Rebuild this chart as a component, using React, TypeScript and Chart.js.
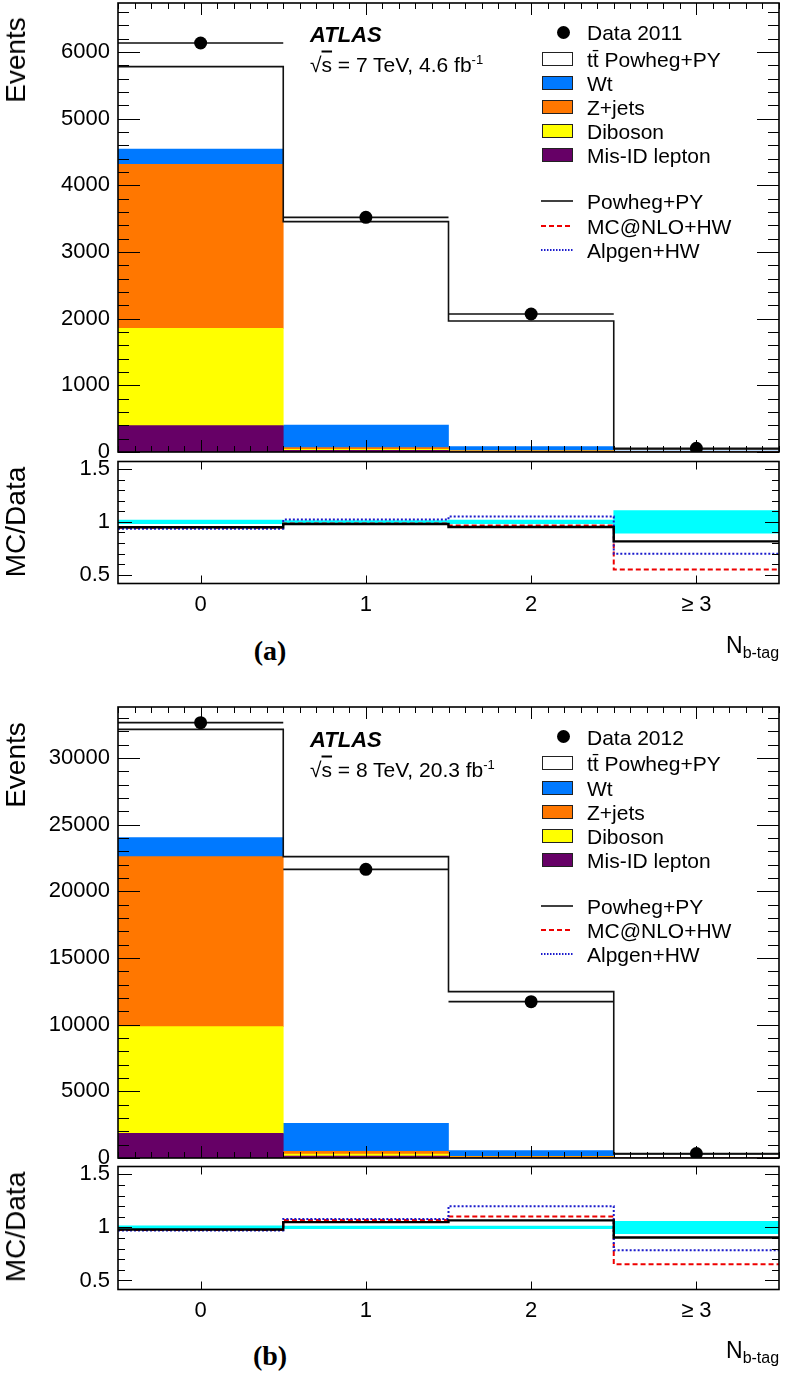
import React, { useEffect, useRef } from 'react';
import { Chart, registerables } from 'chart.js';

Chart.register(...registerables);

const FONT = "'Liberation Sans', Arial, Helvetica, sans-serif";
const SERIF = "'Liberation Serif', 'Times New Roman', serif";

// ---------------- data ----------------
const binCenters = [0, 1, 2, 3];
const xTickLabels = ['0', '1', '2', '\u2265 3'];

// (a) 2011, sqrt(s) = 7 TeV
const data2011 = [6135, 3520, 2070, 55];
const ttbar2011 = [1235, 3050, 1885, 30];
const wt2011 = [230, 340, 57, 8];
const zjets2011 = [2460, 25, 10, 2];
const diboson2011 = [1460, 15, 5, 2];
const misid2011 = [395, 25, 8, 2];
const ratioPowheg2011 = [0.95, 0.98, 0.952, 0.815];
const ratioMcnlo2011 = [0.945, 0.985, 0.965, 0.548];
const ratioAlpgen2011 = [0.935, 1.022, 1.052, 0.697];
const dataUnc2011 = [0.017, 0.012, 0.017, 0.108];

// (b) 2012, sqrt(s) = 8 TeV
const data2012 = [32650, 21650, 11725, 330];
const ttbar2012 = [8125, 20000, 11925, 255];
const wt2012 = [1425, 2100, 420, 30];
const zjets2012 = [12750, 200, 60, 5];
const diboson2012 = [8000, 150, 30, 5];
const misid2012 = [1850, 150, 40, 5];
const ratioPowheg2012 = [0.98, 1.05, 1.066, 0.905];
const ratioMcnlo2012 = [0.975, 1.07, 1.104, 0.654];
const ratioAlpgen2012 = [0.97, 1.08, 1.2, 0.786];
const dataUnc2012 = [0.015, 0.012, 0.012, 0.058];

const yTicks2011 = [0, 1000, 2000, 3000, 4000, 5000, 6000];
const yTicks2012 = [0, 5000, 10000, 15000, 20000, 25000, 30000];
const ratioTicks = [0.5, 1, 1.5];

const COLORS = {
  wt: '#0079ff',
  zj: '#ff7700',
  db: '#ffff00',
  mis: '#660066',
  band: '#00ffff',
  red: '#ee0000',
  blue: '#1a1acc',
};

// ---------------- helpers ----------------
const pts = (vals: number[]) => binCenters.map((c, i) => ({ x: c, y: vals[i] }));
const stepPoints = (vals: number[]) =>
  vals.flatMap((v, i) => [
    { x: binCenters[i] - 0.5, y: v },
    { x: binCenters[i] + 0.5, y: v },
  ]);
const segPoints = (vals: number[]) =>
  vals.flatMap((v, i) => [
    { x: binCenters[i] - 0.5, y: v },
    { x: binCenters[i] + 0.5, y: v },
    { x: binCenters[i] + 0.5, y: null as any },
  ]);

const framePlugin = {
  id: 'rootFrame',
  afterDatasetsDraw(chart: any, _a: any, o: any) {
    const { ctx, chartArea: a } = chart;
    const xs = chart.scales.x;
    const ys = chart.scales.y;
    const range = (min: number, max: number, step: number) => {
      const out: number[] = [];
      const k0 = Math.ceil(min / step - 1e-6);
      const k1 = Math.floor(max / step + 1e-6);
      for (let k = k0; k <= k1; k++) out.push(k * step);
      return out;
    };
    const isMul = (v: number, step: number) => Math.abs(v / step - Math.round(v / step)) < 1e-6;
    ctx.save();
    ctx.strokeStyle = '#000';
    ctx.lineWidth = 1;
    ctx.beginPath();
    const xt = (v: number, len: number) => {
      const p = Math.round(xs.getPixelForValue(v)) + 0.5;
      ctx.moveTo(p, a.bottom);
      ctx.lineTo(p, a.bottom - len);
      ctx.moveTo(p, a.top);
      ctx.lineTo(p, a.top + len);
    };
    const yt = (v: number, len: number) => {
      const p = Math.round(ys.getPixelForValue(v)) + 0.5;
      ctx.moveTo(a.left, p);
      ctx.lineTo(a.left + len, p);
      ctx.moveTo(a.right, p);
      ctx.lineTo(a.right - len, p);
    };
    if (o.xMinor) range(xs.min, xs.max, o.xMinor).forEach((v) => { if (!isMul(v, o.xMajor)) xt(v, o.xMinorLen); });
    range(xs.min, xs.max, o.xMajor).forEach((v) => xt(v, o.xMajorLen));
    range(ys.min, ys.max, o.yMinor).forEach((v) => { if (!isMul(v, o.yMajor)) yt(v, o.yMinorLen); });
    range(ys.min, ys.max, o.yMajor).forEach((v) => yt(v, o.yMajorLen));
    ctx.stroke();
    ctx.lineWidth = 1.6;
    ctx.strokeRect(a.left, a.top, a.right - a.left, a.bottom - a.top);
    ctx.restore();
  },
};

function makeOptions(o: any) {
  return {
    responsive: false,
    animation: false,
    events: [],
    layout: { autoPadding: false, padding: { top: o.padTop, right: 7, left: 0, bottom: 0 } },
    plugins: {
      legend: { display: false },
      tooltip: { enabled: false },
      title: { display: false },
      rootFrame: o.frame,
    },
    scales: {
      x: {
        type: 'linear',
        min: -0.5,
        max: 3.5,
        offset: false,
        stacked: o.stacked,
        grid: { display: false, drawTicks: false, offset: false },
        border: { display: false },
        afterBuildTicks: (s: any) => { s.ticks = binCenters.map((v) => ({ value: v })); },
        afterFit: (s: any) => { s.height = o.xHeight; s.paddingLeft = 0; s.paddingRight = 0; },
        ticks: {
          display: o.xLabels,
          padding: 8,
          maxRotation: 0,
          autoSkip: false,
          color: '#000',
          font: { size: 22, family: FONT },
          callback: (v: any) => xTickLabels[binCenters.indexOf(Number(v))] ?? '',
        },
      },
      y: {
        type: 'linear',
        min: o.yMin,
        max: o.yMax,
        stacked: o.stacked,
        grid: { display: false, drawTicks: false },
        border: { display: false },
        afterBuildTicks: (s: any) => { s.ticks = o.yTicks.map((v: number) => ({ value: v })); },
        afterFit: (s: any) => { s.width = 118; s.paddingTop = 0; s.paddingBottom = 0; },
        ticks: {
          padding: 8,
          autoSkip: false,
          color: '#000',
          font: { size: 22, family: FONT },
          callback: (v: any) => String(v),
        },
      },
    },
  };
}

function mainConfig(p: any) {
  const total = binCenters.map((_, i) => p.tt[i] + p.wt[i] + p.zj[i] + p.db[i] + p.mis[i]);
  const bar = (label: string, vals: number[], color: string) => ({
    type: 'bar',
    label,
    data: pts(vals),
    backgroundColor: color,
    borderWidth: 0,
    barPercentage: 1,
    categoryPercentage: 1,
    order: 10,
  });
  return {
    type: 'bar',
    data: {
      datasets: [
        bar('Mis-ID lepton', p.mis, COLORS.mis),
        bar('Diboson', p.db, COLORS.db),
        bar('Z+jets', p.zj, COLORS.zj),
        bar('Wt', p.wt, COLORS.wt),
        bar('tt Powheg+PY', p.tt, '#ffffff'),
        {
          type: 'line', label: 'Total prediction', data: stepPoints(total), borderColor: '#111',
          borderWidth: 1.6, pointRadius: 0, fill: false, tension: 0, stack: 'total', order: 3,
        },
        {
          type: 'line', label: 'Data bin width', data: segPoints(p.data), borderColor: '#111',
          borderWidth: 1.6, pointRadius: 0, fill: false, spanGaps: false, tension: 0, stack: 'dataerr', order: 2,
        },
        {
          type: 'line', label: p.dataLabel, data: pts(p.data), showLine: false, pointRadius: 6.5,
          pointBackgroundColor: '#000', pointBorderWidth: 0, borderColor: '#000', stack: 'data', order: 1,
        },
      ],
    },
    options: makeOptions({
      padTop: p.padTop, xHeight: p.xHeight, stacked: true, xLabels: false,
      yMin: 0, yMax: p.yMax, yTicks: p.yTicks,
      frame: {
        xMajor: 1, xMinor: 0.1, xMajorLen: 12, xMinorLen: 6,
        yMajor: p.yMajor, yMinor: p.yMinor, yMajorLen: 22, yMinorLen: 11,
      },
    }),
    plugins: [framePlugin],
  };
}

function ratioConfig(p: any) {
  const line = (label: string, vals: number[], color: string, width: number, dash: number[], order: number) => ({
    type: 'line', label, data: stepPoints(vals), borderColor: color, borderWidth: width,
    borderDash: dash, pointRadius: 0, fill: false, tension: 0, order,
  });
  return {
    type: 'bar',
    data: {
      datasets: [
        {
          type: 'bar', label: 'Data uncertainty',
          data: binCenters.map((c, i) => ({ x: c, y: [1 - p.unc[i], 1 + p.unc[i]] })),
          backgroundColor: COLORS.band, borderWidth: 0, barPercentage: 1, categoryPercentage: 1, order: 10,
        },
        line('MC@NLO+HW', p.mcnlo, COLORS.red, 2, [5, 3], 3),
        line('Alpgen+HW', p.alpgen, COLORS.blue, 2, [2, 2], 2),
        line('Powheg+PY', p.powheg, '#000', 2.4, [], 1),
      ],
    },
    options: makeOptions({
      padTop: p.padTop, xHeight: p.xHeight, stacked: false, xLabels: true,
      yMin: 0.415, yMax: 1.574, yTicks: ratioTicks,
      frame: {
        xMajor: 1, xMinor: 0, xMajorLen: 8, xMinorLen: 0,
        yMajor: 0.5, yMinor: 0.1, yMajorLen: 14, yMinorLen: 7,
      },
    }),
    plugins: [framePlugin],
  };
}

function ChartCanvas({ top, height, config }: { top: number; height: number; config: () => any }) {
  const ref = useRef<HTMLCanvasElement>(null);
  useEffect(() => {
    const chart = new Chart(ref.current as HTMLCanvasElement, config());
    return () => chart.destroy();
  }, []);
  return (
    <canvas
      ref={ref}
      width={786}
      height={height}
      style={{ position: 'absolute', left: 0, top, width: 786, height }}
    />
  );
}

const abs = (x: number, y: number, style: any = {}) => ({
  position: 'absolute' as const,
  left: x,
  top: y,
  transform: 'translateY(-50%)',
  lineHeight: 1,
  whiteSpace: 'nowrap' as const,
  ...style,
});

function Swatch({ kind, color, y }: { kind: string; color?: string; y: number }) {
  if (kind === 'dot') {
    return <div style={{ position: 'absolute', left: 557, top: y - 6.5, width: 13, height: 13, borderRadius: '50%', background: '#000' }} />;
  }
  if (kind === 'box') {
    return (
      <div
        style={{
          position: 'absolute', left: 542, top: y - 7, width: 31, height: 14,
          boxSizing: 'border-box', border: '1.5px solid #222', background: color,
        }}
      />
    );
  }
  const stroke = kind === 'solid' ? '#000' : kind === 'dash' ? COLORS.red : COLORS.blue;
  const dash = kind === 'solid' ? undefined : kind === 'dash' ? '5 3' : '1.5 1.5';
  return (
    <svg style={{ position: 'absolute', left: 541, top: y - 2 }} width={32} height={4}>
      <line x1={0} y1={2} x2={32} y2={2} stroke={stroke} strokeWidth={kind === 'solid' ? 1.5 : 2} strokeDasharray={dash} />
    </svg>
  );
}

function Annotations({ off, dataLabel, energy, lumi, tag }: any) {
  const rows = [
    { y: 32, kind: 'dot', label: dataLabel },
    { y: 58.5, kind: 'box', color: '#ffffff', label: 'tt\u0304 Powheg+PY' },
    { y: 83, kind: 'box', color: COLORS.wt, label: 'Wt' },
    { y: 107, kind: 'box', color: COLORS.zj, label: 'Z+jets' },
    { y: 131, kind: 'box', color: COLORS.db, label: 'Diboson' },
    { y: 155, kind: 'box', color: COLORS.mis, label: 'Mis-ID lepton' },
    { y: 201, kind: 'solid', label: 'Powheg+PY' },
    { y: 225.5, kind: 'dash', label: 'MC@NLO+HW' },
    { y: 249.5, kind: 'dot2', label: 'Alpgen+HW' },
  ];
  return (
    <>
      {rows.map((r, i) => (
        <React.Fragment key={i}>
          <Swatch kind={r.kind} color={(r as any).color} y={off + r.y} />
          <div style={abs(587, off + r.y, { fontSize: 21 })}>{r.label}</div>
        </React.Fragment>
      ))}
      <div style={abs(310, off + 35, { fontSize: 22, fontWeight: 'bold', fontStyle: 'italic' })}>ATLAS</div>
      <div style={abs(310, off + 64, { fontSize: 21 })}>
        {'\u221A'}
        <span style={{ textDecoration: 'overline' }}>s</span>
        {` = ${energy} TeV, ${lumi} fb`}
        <span style={{ fontSize: 13, position: 'relative', top: -8 }}>-1</span>
      </div>
      <div
        style={{
          position: 'absolute', left: 16, top: off + 60, transform: 'translate(-50%,-50%) rotate(-90deg)',
          fontSize: 28, lineHeight: 1, whiteSpace: 'nowrap',
        }}
      >
        Events
      </div>
      <div
        style={{
          position: 'absolute', left: 16, top: off + 522, transform: 'translate(-50%,-50%) rotate(-90deg)',
          fontSize: 28, lineHeight: 1, whiteSpace: 'nowrap',
        }}
      >
        MC/Data
      </div>
      <div
        style={{
          position: 'absolute', left: 270, top: off + 651, transform: 'translate(-50%,-50%)',
          fontFamily: SERIF, fontWeight: 'bold', fontSize: 28, lineHeight: 1, whiteSpace: 'nowrap',
        }}
      >
        {tag}
      </div>
      <div style={{ position: 'absolute', left: 726, top: off + 634, fontSize: 23, lineHeight: 1, whiteSpace: 'nowrap' }}>
        N<span style={{ fontSize: 16, position: 'relative', top: 5 }}>b-tag</span>
      </div>
    </>
  );
}

export default function App() {
  return (
    <div
      style={{
        position: 'absolute', left: 0, top: 0, width: 786, height: 1373, background: '#fff',
        fontFamily: FONT, color: '#000', overflow: 'hidden',
      }}
    >
      <ChartCanvas
        top={0}
        height={464}
        config={() =>
          mainConfig({
            data: data2011, tt: ttbar2011, wt: wt2011, zj: zjets2011, db: diboson2011, mis: misid2011,
            dataLabel: 'Data 2011', yMax: 6735, yTicks: yTicks2011, yMajor: 1000, yMinor: 200,
            padTop: 3, xHeight: 12,
          })
        }
      />
      <ChartCanvas
        top={455}
        height={180}
        config={() =>
          ratioConfig({
            powheg: ratioPowheg2011, mcnlo: ratioMcnlo2011, alpgen: ratioAlpgen2011, unc: dataUnc2011,
            padTop: 6.5, xHeight: 51.5,
          })
        }
      />
      <ChartCanvas
        top={700}
        height={470}
        config={() =>
          mainConfig({
            data: data2012, tt: ttbar2012, wt: wt2012, zj: zjets2012, db: diboson2012, mis: misid2012,
            dataLabel: 'Data 2012', yMax: 33825, yTicks: yTicks2012, yMajor: 5000, yMinor: 1000,
            padTop: 7, xHeight: 12,
          })
        }
      />
      <ChartCanvas
        top={1160}
        height={180}
        config={() =>
          ratioConfig({
            powheg: ratioPowheg2012, mcnlo: ratioMcnlo2012, alpgen: ratioAlpgen2012, unc: dataUnc2012,
            padTop: 6.5, xHeight: 50.5,
          })
        }
      />
      <Annotations off={0} dataLabel="Data 2011" energy="7" lumi="4.6" tag="(a)" />
      <Annotations off={704.5} dataLabel="Data 2012" energy="8" lumi="20.3" tag="(b)" />
    </div>
  );
}
